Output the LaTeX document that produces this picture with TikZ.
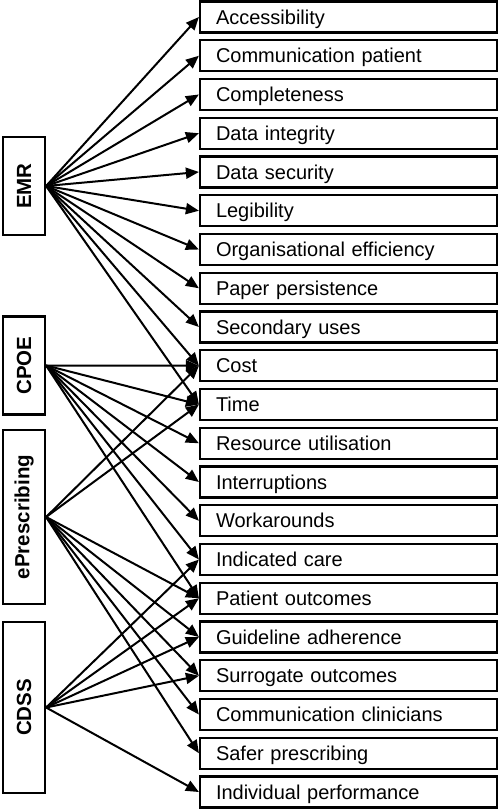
\documentclass[tikz,border=0pt]{standalone}
\usepackage{fontspec}
\setmainfont{Liberation Sans}
\usetikzlibrary{arrows.meta}
\begin{document}
\begin{tikzpicture}[x=1pt,y=-1pt,
  outbox/.style={draw, line width=2.2pt, fill=white, minimum width=297pt, minimum height=31pt,
    inner xsep=16pt, inner ysep=0pt, text width=265pt, align=left,
    text height=14.4pt, text depth=0pt, font=\fontsize{20}{22}\selectfont},
  srcbox/.style={draw, line width=2.2pt, minimum width=42pt, inner sep=0pt},
  srclabel/.style={rotate=90, inner sep=0pt, font=\fontsize{20.5}{22}\selectfont\bfseries},
  link/.style={line width=2pt, -{Triangle[length=13pt,width=11pt]}}]
\useasboundingbox (0,0) rectangle (500,811);

% left source boxes
\node[srcbox, minimum height=98pt]  (emr)  at (24,186)   {};
\node[srcbox, minimum height=98pt]  (cpoe) at (24,365.5) {};
\node[srcbox, minimum height=174pt] (epre) at (24,517)   {};
\node[srcbox, minimum height=171pt] (cdss) at (24,707.5) {};
\node[srclabel] (emrl)  at (emr)  {EMR};
\node[srclabel] (cpoel) at (cpoe) {CPOE};
\node[srclabel] (eprel) at (epre) {ePrescribing};
\node[srclabel] (cdssl) at (cdss) {CDSS};

% right outcome boxes
\foreach \i/\txt in {0/Accessibility, 1/Communication patient, 2/Completeness,
  3/Data integrity, 4/Data security, 5/Legibility, 6/Organisational efficiency,
  7/Paper persistence, 8/Secondary uses, 9/Cost, 10/Time, 11/Resource utilisation,
  12/Interruptions, 13/Workarounds, 14/Indicated care, 15/Patient outcomes,
  16/Guideline adherence, 17/Surrogate outcomes, 18/Communication clinicians,
  19/Safer prescribing, 20/Individual performance}
  \node[outbox] (r\i) at (348.5,{17+38.75*\i}) {\txt};

% connectors
\foreach \t in {0,...,10} \draw[link] (emr.east) -- (r\t.west);
\foreach \t in {9,...,15} \draw[link] (cpoe.east) -- (r\t.west);
\foreach \t in {9,10,15,16,17,18,19} \draw[link] (epre.east) -- (r\t.west);
\foreach \t in {14,15,16,17,20} \draw[link] (cdss.east) -- (r\t.west);
\end{tikzpicture}
\end{document}
